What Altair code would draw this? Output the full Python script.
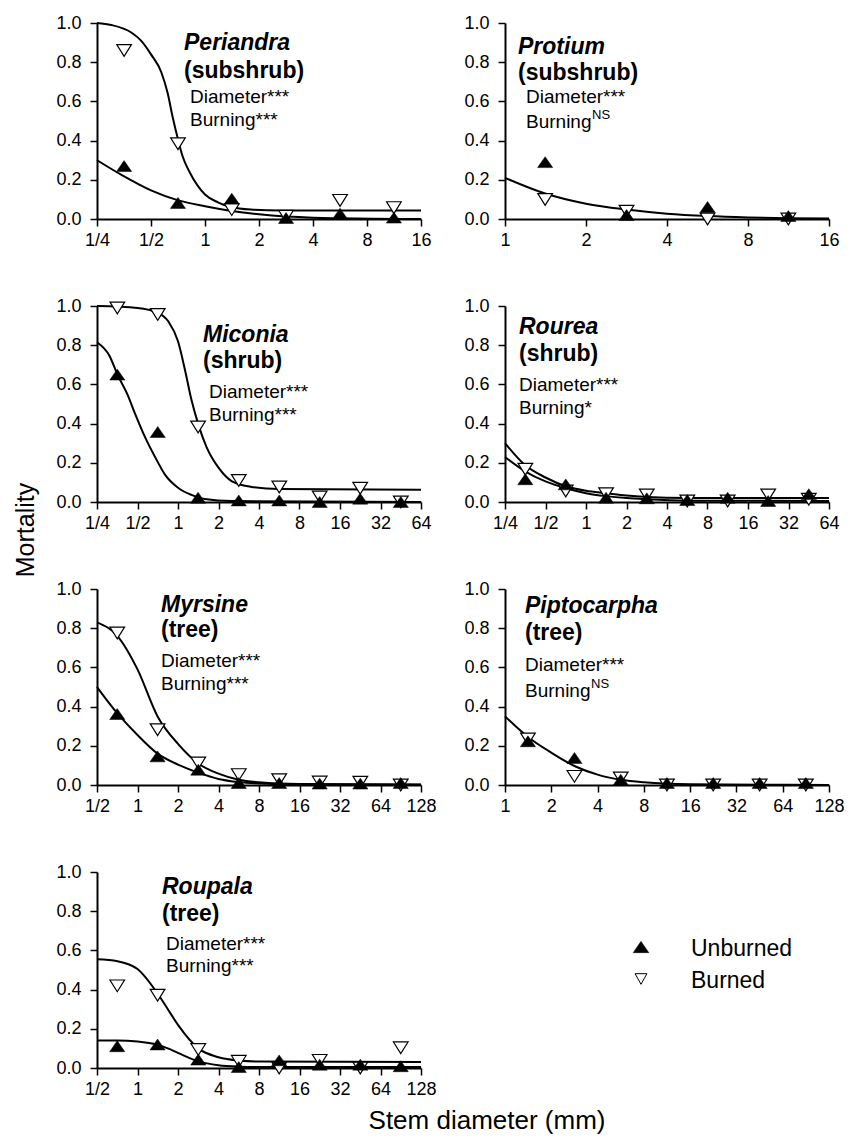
import altair as alt
import pandas as pd

FONT = "Liberation Sans"

# ---------------- data ----------------
# Periandra (subshrub)
periandra_x = [0.354, 0.707, 1.41, 2.83, 5.66, 11.3]
periandra_unburned = [0.27, 0.082, 0.104, 0.005, 0.027, 0.007]
periandra_burned = [0.86, 0.384, 0.048, 0.014, 0.095, 0.058]
periandra_fitb_x = [0.25, 0.30, 0.39, 0.44, 0.50, 0.57, 0.62, 0.66, 0.71, 0.75, 0.82, 0.91, 1.0, 1.18, 1.39, 1.8, 2.64, 16]
periandra_fitb = [1.0, 0.99, 0.95, 0.91, 0.84, 0.75, 0.64, 0.52, 0.40, 0.32, 0.24, 0.17, 0.125, 0.085, 0.061, 0.048, 0.044, 0.044]
periandra_fitu_x = [0.25, 0.35, 0.5, 0.71, 1, 1.41, 2, 4, 16]
periandra_fitu = [0.30, 0.22, 0.146, 0.095, 0.065, 0.041, 0.024, 0.007, 0.0]

# Protium (subshrub)
protium_x = [1.41, 2.83, 5.66, 11.3]
protium_unburned = [0.29, 0.02, 0.061, 0.015]
protium_burned = [0.10, 0.04, 0.0, 0.0]
protium_fit_x = [1, 1.41, 2, 2.83, 4, 5.66, 8, 11.3, 16]
protium_fit = [0.21, 0.13, 0.078, 0.048, 0.027, 0.015, 0.008, 0.004, 0.002]

# Miconia (shrub)
miconia_x = [0.354, 0.707, 1.41, 2.83, 5.66, 11.3, 22.6, 45.3]
miconia_unburned = [0.65, 0.357, 0.022, 0.008, 0.008, 0.0, 0.017, 0.0]
miconia_burned = [0.99, 0.957, 0.383, 0.11, 0.077, 0.026, 0.07, 0.0]
miconia_fitb_x = [0.25, 0.5, 0.71, 0.85, 1.0, 1.13, 1.26, 1.41, 1.63, 2.0, 2.5, 3.5, 5.66, 64]
miconia_fitb = [1.0, 0.99, 0.965, 0.92, 0.82, 0.67, 0.52, 0.40, 0.28, 0.175, 0.107, 0.077, 0.066, 0.062]
miconia_fitu_x = [0.25, 0.31, 0.355, 0.42, 0.48, 0.57, 0.68, 0.80, 1.0, 1.26, 1.58, 2.5, 64]
miconia_fitu = [0.815, 0.745, 0.65, 0.55, 0.45, 0.33, 0.226, 0.14, 0.073, 0.036, 0.015, 0.005, 0.0]

# Rourea (shrub)
rourea_x = [0.354, 0.707, 1.41, 2.83, 5.66, 11.3, 22.6, 45.3]
rourea_unburned = [0.116, 0.09, 0.022, 0.019, 0.01, 0.022, 0.005, 0.04]
rourea_burned = [0.167, 0.056, 0.042, 0.036, 0.005, 0.005, 0.036, 0.014]
rourea_fit_x = [0.25, 0.35, 0.5, 0.71, 1, 1.41, 2, 2.83, 5.66, 64]
rourea_fitb = [0.30, 0.19, 0.125, 0.08, 0.057, 0.045, 0.033, 0.026, 0.021, 0.02]
rourea_fitu = [0.23, 0.158, 0.105, 0.07, 0.045, 0.03, 0.02, 0.014, 0.007, 0.005]

# Myrsine (tree)
myrsine_x = [0.707, 1.41, 2.83, 5.66, 11.3, 22.6, 45.3, 90.5]
myrsine_unburned = [0.362, 0.146, 0.078, 0.01, 0.01, 0.007, 0.007, 0.01]
myrsine_burned = [0.776, 0.282, 0.112, 0.053, 0.027, 0.015, 0.014, 0.0]
myrsine_fit_x = [0.5, 0.71, 1, 1.41, 2, 2.83, 4, 5.66, 8, 16, 128]
myrsine_fitb = [0.83, 0.76, 0.59, 0.35, 0.21, 0.11, 0.058, 0.027, 0.014, 0.005, 0.002]
myrsine_fitu = [0.50, 0.365, 0.255, 0.16, 0.104, 0.063, 0.031, 0.015, 0.008, 0.003, 0.001]

# Piptocarpha (tree)
piptocarpha_x = [1.41, 2.83, 5.66, 11.3, 22.6, 45.3, 90.5]
piptocarpha_unburned = [0.223, 0.138, 0.027, 0.01, 0.01, 0.01, 0.01]
piptocarpha_burned = [0.235, 0.044, 0.036, 0.0, 0.0, 0.0, 0.0]
piptocarpha_fit_x = [1, 1.41, 2, 2.83, 4, 5.66, 8, 16, 128]
piptocarpha_fit = [0.35, 0.245, 0.165, 0.097, 0.053, 0.027, 0.014, 0.004, 0.0]

# Roupala (tree)
roupala_x = [0.707, 1.41, 2.83, 5.66, 11.3, 22.6, 45.3, 90.5]
roupala_unburned = [0.111, 0.12, 0.043, 0.005, 0.039, 0.017, 0.017, 0.009]
roupala_burned = [0.419, 0.371, 0.094, 0.034, 0.0, 0.039, 0.0, 0.103]
roupala_fit_x = [0.5, 0.71, 1, 1.41, 1.68, 2, 2.83, 4, 5.66, 8, 128]
roupala_fitb = [0.555, 0.545, 0.505, 0.38, 0.30, 0.22, 0.10, 0.055, 0.038, 0.033, 0.03]
roupala_fitu = [0.14, 0.14, 0.135, 0.118, 0.10, 0.077, 0.034, 0.014, 0.007, 0.005, 0.005]

# tick labels of the log2 diameter axes
ticks_quarter_16 = [0.25, 0.5, 1, 2, 4, 8, 16]
ticks_1_16 = [1, 2, 4, 8, 16]
ticks_quarter_64 = [0.25, 0.5, 1, 2, 4, 8, 16, 32, 64]
ticks_half_128 = [0.5, 1, 2, 4, 8, 16, 32, 64, 128]
ticks_1_128 = [1, 2, 4, 8, 16, 32, 64, 128]
y_ticks = [0.0, 0.2, 0.4, 0.6, 0.8, 1.0]

legend_labels = ["Unburned", "Burned"]

# ---------------- styling ----------------
W, H = 324, 196
UP = "M0,-0.72L1,0.72L-1,0.72Z"
DOWN = "M-1,-0.8L1,-0.8L0,0.8Z"
DOWN_LEG = "M-1,-0.9L1,-0.9L0,0.9Z"
LABEL_EXPR = "datum.value < 1 ? '1/' + format(1 / datum.value, 'd') : format(datum.value, 'd')"
GENUS_SIZE, STAT_SIZE = 23, 19


def text_layer(txt, x, y, size, weight="normal", style="normal"):
    return alt.Chart(alt.Data(values=[{}])).mark_text(
        text=txt, align="left", baseline="alphabetic", font=FONT,
        fontSize=size, fontWeight=weight, fontStyle=style, color="black"
    ).encode(x=alt.value(x), y=alt.value(y))


def panel(genus, form, burn_sig, xs, unb, bur, fits, ticks, pos):
    dom = [ticks[0], ticks[-1]]
    xenc = alt.X("x:Q", scale=alt.Scale(type="log", base=2, domain=dom, nice=False),
                 axis=alt.Axis(values=ticks, labelExpr=LABEL_EXPR, title=None))
    yenc = alt.Y("y:Q", scale=alt.Scale(domain=[0, 1], nice=False),
                 axis=alt.Axis(values=y_ticks, format=".1f", title=None))
    rows = []
    for i, (fx, fy) in enumerate(fits):
        for a, b in zip(fx, fy):
            rows.append({"x": a, "y": b, "curve": str(i)})
    curves = alt.Chart(pd.DataFrame(rows)).mark_line(
        color="black", strokeWidth=2, interpolate="monotone"
    ).encode(x=xenc, y=yenc, detail="curve:N")
    pts = pd.DataFrame({"x": xs + xs, "y": unb + bur,
                        "treatment": ["Unburned"] * len(xs) + ["Burned"] * len(xs)})
    burned_pts = alt.Chart(pts).transform_filter(alt.datum.treatment == "Burned").mark_point(
        shape=DOWN, size=215, filled=True, fill="white", stroke="black", strokeWidth=1.2, opacity=1
    ).encode(x=xenc, y=yenc)
    unburned_pts = alt.Chart(pts).transform_filter(alt.datum.treatment == "Unburned").mark_point(
        shape=UP, size=230, filled=True, fill="black", stroke="black", strokeWidth=0.5, opacity=1
    ).encode(x=xenc, y=yenc)
    gx, gy1, gy2, sx, sy1, sy2 = pos
    layers = [curves, burned_pts, unburned_pts,
              text_layer(genus, gx, gy1, GENUS_SIZE, "bold", "italic"),
              text_layer(form, gx, gy2, GENUS_SIZE, "bold"),
              text_layer("Diameter***", sx, sy1, STAT_SIZE)]
    if burn_sig == "NS":
        layers.append(text_layer("Burning", sx, sy2, STAT_SIZE))
        layers.append(text_layer("NS", sx + 66, sy2 - 9, 13))
    else:
        layers.append(text_layer("Burning" + burn_sig, sx, sy2, STAT_SIZE))
    return alt.layer(*layers).properties(width=W, height=H)


p1 = panel("Periandra", "(subshrub)", "***", periandra_x, periandra_unburned, periandra_burned,
           [(periandra_fitb_x, periandra_fitb), (periandra_fitu_x, periandra_fitu)],
           ticks_quarter_16, (87, 27, 55, 93, 80, 103))
p2 = panel("Protium", "(subshrub)", "NS", protium_x, protium_unburned, protium_burned,
           [(protium_fit_x, protium_fit)], ticks_1_16, (13, 31, 57, 21, 80, 105))
p3 = panel("Miconia", "(shrub)", "***", miconia_x, miconia_unburned, miconia_burned,
           [(miconia_fitb_x, miconia_fitb), (miconia_fitu_x, miconia_fitu)],
           ticks_quarter_64, (106, 36, 62, 112, 92, 115))
p4 = panel("Rourea", "(shrub)", "*", rourea_x, rourea_unburned, rourea_burned,
           [(rourea_fit_x, rourea_fitb), (rourea_fit_x, rourea_fitu)],
           ticks_quarter_64, (14, 28, 55, 14, 85, 108))
p5 = panel("Myrsine", "(tree)", "***", myrsine_x, myrsine_unburned, myrsine_burned,
           [(myrsine_fit_x, myrsine_fitb), (myrsine_fit_x, myrsine_fitu)],
           ticks_half_128, (64, 23, 48, 64, 78, 101))
p6 = panel("Piptocarpha", "(tree)", "NS", piptocarpha_x, piptocarpha_unburned, piptocarpha_burned,
           [(piptocarpha_fit_x, piptocarpha_fit)], ticks_1_128, (20, 24, 51, 20, 82, 108))
p7 = panel("Roupala", "(tree)", "***", roupala_x, roupala_unburned, roupala_burned,
           [(roupala_fit_x, roupala_fitb), (roupala_fit_x, roupala_fitu)],
           ticks_half_128, (65, 22, 49, 69, 78, 100))

# legend cell
leg_df = pd.DataFrame({"label": legend_labels})
leg_y = alt.Y("label:N", sort=legend_labels, axis=None,
              scale=alt.Scale(type="point", range=[75, 107], padding=0))
leg_up = alt.Chart(leg_df).transform_filter(alt.datum.label == "Unburned").mark_point(
    shape=UP, size=245, filled=True, fill="black", stroke="black", strokeWidth=0.5, opacity=1
).encode(x=alt.value(136), y=leg_y)
leg_down = alt.Chart(leg_df).transform_filter(alt.datum.label == "Burned").mark_point(
    shape=DOWN_LEG, size=140, filled=True, fill="white", stroke="black", strokeWidth=1, opacity=1
).encode(x=alt.value(136), y=leg_y)
leg_text = alt.Chart(leg_df).mark_text(
    align="left", baseline="alphabetic", dy=9, font=FONT, fontSize=23, color="black"
).encode(x=alt.value(186), y=leg_y, text="label:N")
legend_cell = alt.layer(leg_up, leg_down, leg_text).properties(width=W, height=H)

inner = alt.concat(p1, p2, p3, p4, p5, p6, p7, legend_cell, columns=2,
                   spacing={"row": 87, "column": 84}, bounds="flush",
                   title=alt.TitleParams("Mortality", orient="left", anchor="middle",
                                         offset=17, fontSize=25, dx=26))
chart = alt.vconcat(inner, title=alt.TitleParams("Stem diameter (mm)", orient="bottom",
                                                  anchor="middle", offset=10, fontSize=26, dx=58)
).properties(padding={"left": 5, "top": 6, "right": 0, "bottom": 0}
).configure_view(stroke=None
).configure_axis(domainColor="black", domainWidth=2, tickColor="black", tickWidth=1.5,
                 tickSize=7, labelFont=FONT, labelFontSize=18, labelColor="black",
                 grid=False, labelFlush=False, labelOverlap=False
).configure_axisX(labelPadding=5
).configure_axisY(labelPadding=9
).configure_title(font=FONT, fontWeight="normal", color="black")

chart.save("out.html", embed_options={"renderer": "svg", "actions": False})
